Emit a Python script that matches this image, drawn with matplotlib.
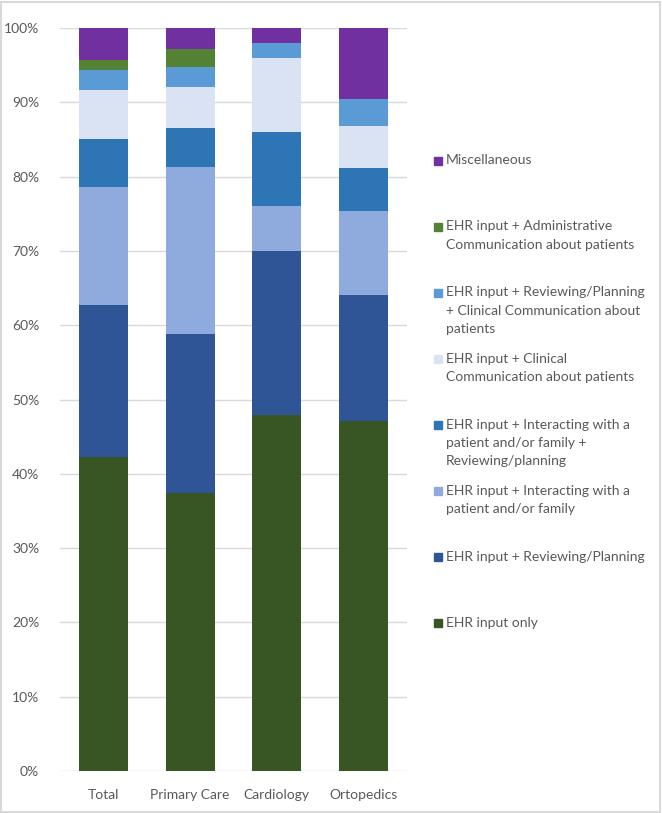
import numpy as np
import matplotlib.pyplot as plt
from matplotlib.patches import Rectangle

categories = ["Total", "Primary Care", "Cardiology", "Ortopedics"]

series_names = [
    "EHR input only",
    "EHR input + Reviewing/Planning",
    "EHR input + Interacting with a\npatient and/or family",
    "EHR input + Interacting with a\npatient and/or family +\nReviewing/planning",
    "EHR input + Clinical\nCommunication about patients",
    "EHR input + Reviewing/Planning\n+ Clinical Communication about\npatients",
    "EHR input + Administrative\nCommunication about patients",
    "Miscellaneous",
]

ehr_only = [42.2, 37.4, 47.9, 47.1]
reviewing = [20.5, 21.4, 22.1, 17.0]
interacting = [15.9, 22.5, 6.0, 11.3]
interacting_reviewing = [6.5, 5.3, 10.0, 5.7]
clinical_comm = [6.5, 5.4, 10.0, 5.7]
reviewing_clinical = [2.8, 2.7, 2.0, 3.7]
admin_comm = [1.3, 2.5, 0.0, 0.0]
misc = [4.3, 2.8, 2.0, 9.5]

values = [ehr_only, reviewing, interacting, interacting_reviewing,
          clinical_comm, reviewing_clinical, admin_comm, misc]
colors = ["#375623", "#2F5597", "#8FAADC", "#2E75B6",
          "#DAE3F3", "#5B9BD5", "#548235", "#7030A0"]

plt.rcParams["font.family"] = ["Lato", "DejaVu Sans"]
W, H = 662, 813
fig = plt.figure(figsize=(W / 100, H / 100), dpi=100)
ax = fig.add_axes([60 / W, 1 - 771 / H, 347 / W, 743 / H])

x = np.arange(len(categories))
bottom = np.zeros(len(categories))
for vals, col in zip(values, colors):
    v = np.array(vals, dtype=float)
    ax.bar(x, v, 0.565, bottom=bottom, color=col, zorder=3)
    bottom += v

ax.set_xlim(-0.5, 3.5)
ax.set_ylim(0, 100)
ax.set_yticks(range(0, 101, 10))
ax.set_yticklabels([f"{t}%" for t in range(0, 101, 10)])
ax.set_xticks(x)
ax.set_xticklabels(categories)
ax.tick_params(axis="both", length=0, colors="#595959", labelsize=10)
ax.tick_params(axis="x", pad=13)
ax.tick_params(axis="y", pad=15)
ax.grid(axis="y", color="#D9D9D9", linewidth=1, zorder=0)
for s in ax.spines.values():
    s.set_visible(False)

# legend, drawn by hand to keep Excel's evenly spaced entries
top_y = 160.7
step = 66.1
for i, (name, col) in enumerate(zip(series_names[::-1], colors[::-1])):
    yy = top_y + i * step
    fig.patches.append(Rectangle((434 / W, 1 - (yy + 4) / H), 8 / W, 8 / H,
                                 transform=fig.transFigure, color=col))
    fig.text(446 / W, 1 - (yy - 6.5) / H, name, va="top", ha="left",
             fontsize=10, color="#595959", linespacing=1.62)

fig.patches.append(Rectangle((1 / W, 1 / H), (W - 3) / W, (H - 3) / H,
                             transform=fig.transFigure, fill=False,
                             edgecolor="#D9D9D9", linewidth=1.5))

fig.savefig("out.png", dpi=100)
